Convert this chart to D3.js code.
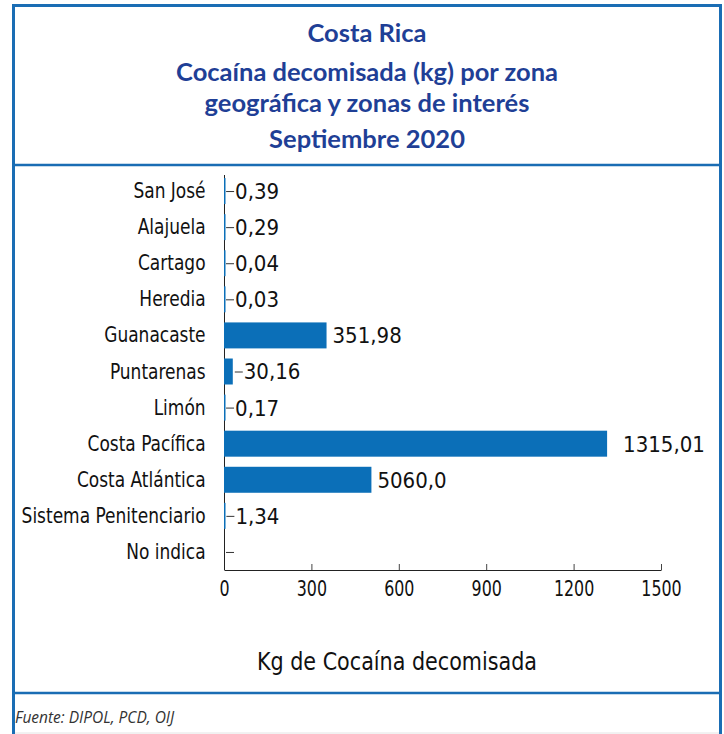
<!DOCTYPE html>
<html>
<head>
<meta charset="utf-8">
<script src="https://cdn.jsdelivr.net/npm/d3@7"></script>
<style>
  body { margin: 0; background: #fff; }
</style>
</head>
<body>
<script>
  // datos
  let zonas = ['San José', 'Alajuela', 'Cartago', 'Heredia', 'Guanacaste', 'Puntarenas',
    'Limón', 'Costa Pacífica', 'Costa Atlántica', 'Sistema Penitenciario', 'No indica']
  let kilos = [0.39, 0.29, 0.04, 0.03, 351.98, 30.16, 0.17, 1315.01, 506.0, 1.34, 0]
  let etiquetas = ['0,39', '0,29', '0,04', '0,03', '351,98', '30,16', '0,17', '1315,01', '5060,0', '1,34', '']
  let ticksX = [0, 300, 600, 900, 1200, 1500]
  let titulo = ['Costa Rica', 'Cocaína decomisada (kg) por zona', 'geográfica y zonas de interés', 'Septiembre  2020']

  let
    width = 724,
    height = 734

  let azul = '#0b6fb8'
  let azulTitulo = '#1f3f96'
  let fuente = '"Liberation Sans Narrow", "DejaVu Sans Condensed", sans-serif'

  let svg = d3.select('body')
    .append('svg')
    .attr('width', width)
    .attr('height', height)
    .style('background', '#fff')

  // marco
  svg.append('rect')
    .attr('x', 13.5)
    .attr('y', 5.5)
    .attr('width', 707)
    .attr('height', 745)
    .attr('fill', 'none')
    .attr('stroke', '#1a6db4')
    .attr('stroke-width', 3)

  svg.append('line')
    .attr('x1', 13).attr('x2', 721)
    .attr('y1', 165).attr('y2', 165)
    .attr('stroke', '#1a6db4')
    .attr('stroke-width', 2.5)

  svg.append('line')
    .attr('x1', 13).attr('x2', 721)
    .attr('y1', 693).attr('y2', 693)
    .attr('stroke', '#1a6db4')
    .attr('stroke-width', 2.5)

  svg.append('line')
    .attr('x1', 15).attr('x2', 719)
    .attr('y1', 733).attr('y2', 733)
    .attr('stroke', '#e4e4e4')
    .attr('stroke-width', 1)

  let titleY = [33, 72, 103, 139]
  titulo.forEach((t, i) => {
    svg.append('text')
      .attr('x', 367)
      .attr('y', titleY[i] + 9)
      .attr('text-anchor', 'middle')
      .attr('font-family', 'Lato, sans-serif')
      .attr('font-weight', 'bold')
      .attr('font-size', '25.5px')
      .attr('fill', azulTitulo)
      .text(t)
  })

  let x = d3.scaleLinear()
    .domain([0, 1500])
    .range([224, 661])

  let y = d3.scaleBand()
    .domain(zonas)
    .range([173, 570])
    .paddingInner(0.28)
    .paddingOuter(0.14)

  // eje x
  let xAxis = svg.append('g')
    .attr('transform', 'translate(0, 570)')
    .call(d3.axisBottom(x).tickValues(ticksX).tickSize(-6).tickPadding(11).tickFormat(d3.format('d')))

  xAxis.select('.domain').attr('stroke', '#222').attr('d', 'M224.5,0.5H661.5')
  xAxis.selectAll('.tick line').attr('stroke', '#444')
  xAxis.selectAll('.tick text')
    .attr('font-family', fuente)
    .attr('font-size', '21px')
    .attr('transform', 'scale(0.84,1)')
    .attr('fill', '#111')

  // eje y
  let yAxis = svg.append('g')
    .attr('transform', 'translate(224.5, 0)')
    .call(d3.axisLeft(y).tickSize(0).tickPadding(22))

  yAxis.select('.domain').attr('stroke', '#222').attr('d', 'M0,175V570')
  yAxis.selectAll('.tick text')
    .attr('font-family', fuente)
    .attr('font-size', '22px')
    .attr('transform', 'scale(0.86,1)')
    .attr('fill', '#111')

  let rows = zonas.map((z, i) => ({ zona: z, valor: kilos[i], etiqueta: etiquetas[i] }))

  svg.selectAll('rect.bar')
    .data(rows)
    .enter()
    .append('rect')
    .attr('class', 'bar')
    .attr('x', x(0))
    .attr('y', d => y(d.zona))
    .attr('width', d => d.valor > 0 ? Math.max(1.5, x(d.valor) - x(0)) : 0)
    .attr('height', y.bandwidth())
    .attr('fill', azul)

  // lineas guia para barras pequenas
  let pequenas = rows.filter(d => d.valor < 50)

  svg.selectAll('line.guia')
    .data(pequenas)
    .enter()
    .append('line')
    .attr('class', 'guia')
    .attr('x1', d => x(d.valor) + 2)
    .attr('x2', d => x(d.valor) + 10)
    .attr('y1', d => y(d.zona) + y.bandwidth() / 2 + 0.5)
    .attr('y2', d => y(d.zona) + y.bandwidth() / 2 + 0.5)
    .attr('stroke', '#333')
    .attr('stroke-width', 1)

  svg.selectAll('text.valor')
    .data(rows)
    .enter()
    .append('text')
    .attr('class', 'valor')
    .attr('x', d => d.valor < 50 ? x(d.valor) + 11 : (d.valor > 1000 ? x(d.valor) + 16 : x(d.valor) + 6))
    .attr('y', d => y(d.zona) + y.bandwidth() / 2)
    .attr('dy', '0.36em')
    .attr('font-family', fuente)
    .attr('font-size', '22px')
    .attr('fill', '#111')
    .text(d => d.etiqueta)

  svg.append('text')
    .attr('x', 397)
    .attr('y', 670)
    .attr('text-anchor', 'middle')
    .attr('font-family', fuente)
    .attr('font-size', '25px')
    .attr('transform', 'translate(397,0) scale(0.92,1) translate(-397,0)')
    .attr('fill', '#111')
    .text('Kg de Cocaína decomisada')

  svg.append('text')
    .attr('x', 15)
    .attr('y', 723)
    .attr('font-family', '"Open Sans", sans-serif')
    .attr('font-style', 'italic')
    .attr('font-size', '15.5px')
    .attr('fill', '#333')
    .text('Fuente: DIPOL, PCD, OIJ')
</script>
</body>
</html>
